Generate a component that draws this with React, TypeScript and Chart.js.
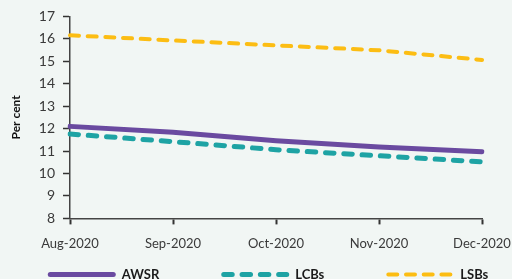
import React, { useEffect, useRef } from "react";
import { Chart, registerables } from "chart.js";

Chart.register(...registerables);

const categories = ["Aug-2020", "Sep-2020", "Oct-2020", "Nov-2020", "Dec-2020"];
const awsr = [12.1, 11.84, 11.46, 11.18, 10.97];
const lcbs = [11.76, 11.42, 11.06, 10.79, 10.52];
const lsbs = [16.16, 15.93, 15.71, 15.49, 15.06];
const yTicks = [8, 9, 10, 11, 12, 13, 14, 15, 16, 17];

const BG = "#f1f6f4";
const FONT = "Lato, 'Noto Sans', sans-serif";

const legendPlugin = {
  id: "customLegend",
  afterDraw(chart: any) {
    const ctx = chart.ctx as CanvasRenderingContext2D;
    const ds = chart.data.datasets;
    const lineW = 68;
    const textGap = 6;
    const itemGap = 62;
    ctx.save();
    ctx.font = `bold 13px ${FONT}`;
    const widths = ds.map((d: any) => lineW + textGap + ctx.measureText(d.label).width);
    const total = widths.reduce((a: number, b: number) => a + b, 0) + itemGap * (ds.length - 1);
    let x = chart.width / 2 + 12 - total / 2;
    const y = chart.chartArea.bottom + 56;
    ds.forEach((d: any, i: number) => {
      ctx.beginPath();
      ctx.strokeStyle = d.borderColor;
      ctx.lineWidth = d.borderWidth;
      ctx.lineCap = "round";
      ctx.setLineDash(d.borderDash || []);
      const cap = d.borderWidth / 2;
      ctx.moveTo(x + cap, y);
      ctx.lineTo(x + lineW - cap, y);
      ctx.stroke();
      ctx.setLineDash([]);
      ctx.fillStyle = "#1a1a1a";
      ctx.textBaseline = "middle";
      ctx.textAlign = "left";
      ctx.fillText(d.label, x + lineW + textGap, y);
      x += widths[i] + itemGap;
    });
    ctx.restore();
  },
};

export default function App() {
  const ref = useRef<HTMLCanvasElement | null>(null);
  useEffect(() => {
    document.body.style.margin = "0";
    document.body.style.background = BG;
    const ctx = ref.current!;
    const chart = new Chart(ctx, {
      type: "line",
      data: {
        labels: categories,
        datasets: [
          {
            label: "AWSR",
            data: awsr,
            borderColor: "#6a4aa0",
            backgroundColor: "#6a4aa0",
            borderWidth: 5,
            pointRadius: 0,
            borderCapStyle: "round",
            tension: 0,
          },
          {
            label: "LCBs",
            data: lcbs,
            borderColor: "#1ea3a4",
            backgroundColor: "#1ea3a4",
            borderWidth: 5,
            borderDash: [8.5, 9.8],
            pointRadius: 0,
            borderCapStyle: "round",
            tension: 0,
          },
          {
            label: "LSBs",
            data: lsbs,
            borderColor: "#fcbd13",
            backgroundColor: "#fcbd13",
            borderWidth: 4,
            borderDash: [9, 8.7],
            pointRadius: 0,
            borderCapStyle: "round",
            tension: 0,
          },
        ],
      },
      plugins: [legendPlugin],
      options: {
        animation: false,
        responsive: true,
        maintainAspectRatio: false,
        layout: { padding: { top: 10, right: 0, left: 9, bottom: 26 } },
        plugins: {
          tooltip: { enabled: false },
          legend: { display: false },
        },
        scales: {
          x: {
            afterFit: (s: any) => {
              s.paddingRight = 30;
              s.paddingLeft = 0;
            },
            grid: {
              display: true,
              drawOnChartArea: false,
              drawTicks: true,
              tickLength: 6,
              tickColor: "#333",
              tickWidth: 2,
              offset: false,
            },
            offset: false,
            border: { display: true, color: "#444", width: 1.5 },
            ticks: {
              color: "#3a3a3a",
              padding: 12,
              maxRotation: 0,
              autoSkip: false,
              font: { family: FONT, size: 13 },
            },
          },
          y: {
            min: 8,
            max: 17,
            afterBuildTicks: (s: any) => {
              s.ticks = yTicks.map((v) => ({ value: v }));
            },
            afterFit: (s: any) => {
              s.width = 61;
            },
            grid: {
              display: true,
              drawOnChartArea: false,
              drawTicks: true,
              tickLength: 7,
              tickColor: "#333",
              tickWidth: 1.5,
            },
            border: { display: true, color: "#444", width: 1.5 },
            title: {
              display: true,
              text: "Per cent",
              color: "#111",
              font: { family: FONT, size: 12, weight: "bold" },
              padding: { top: 0, bottom: 4 },
            },
            ticks: {
              color: "#3a3a3a",
              padding: 8,
              autoSkip: false,
              font: { family: FONT, size: 14 },
            },
          },
        },
      },
    });
    return () => chart.destroy();
  }, []);
  return (
    <div style={{ width: 512, height: 290, background: BG }}>
      <canvas ref={ref} />
    </div>
  );
}
